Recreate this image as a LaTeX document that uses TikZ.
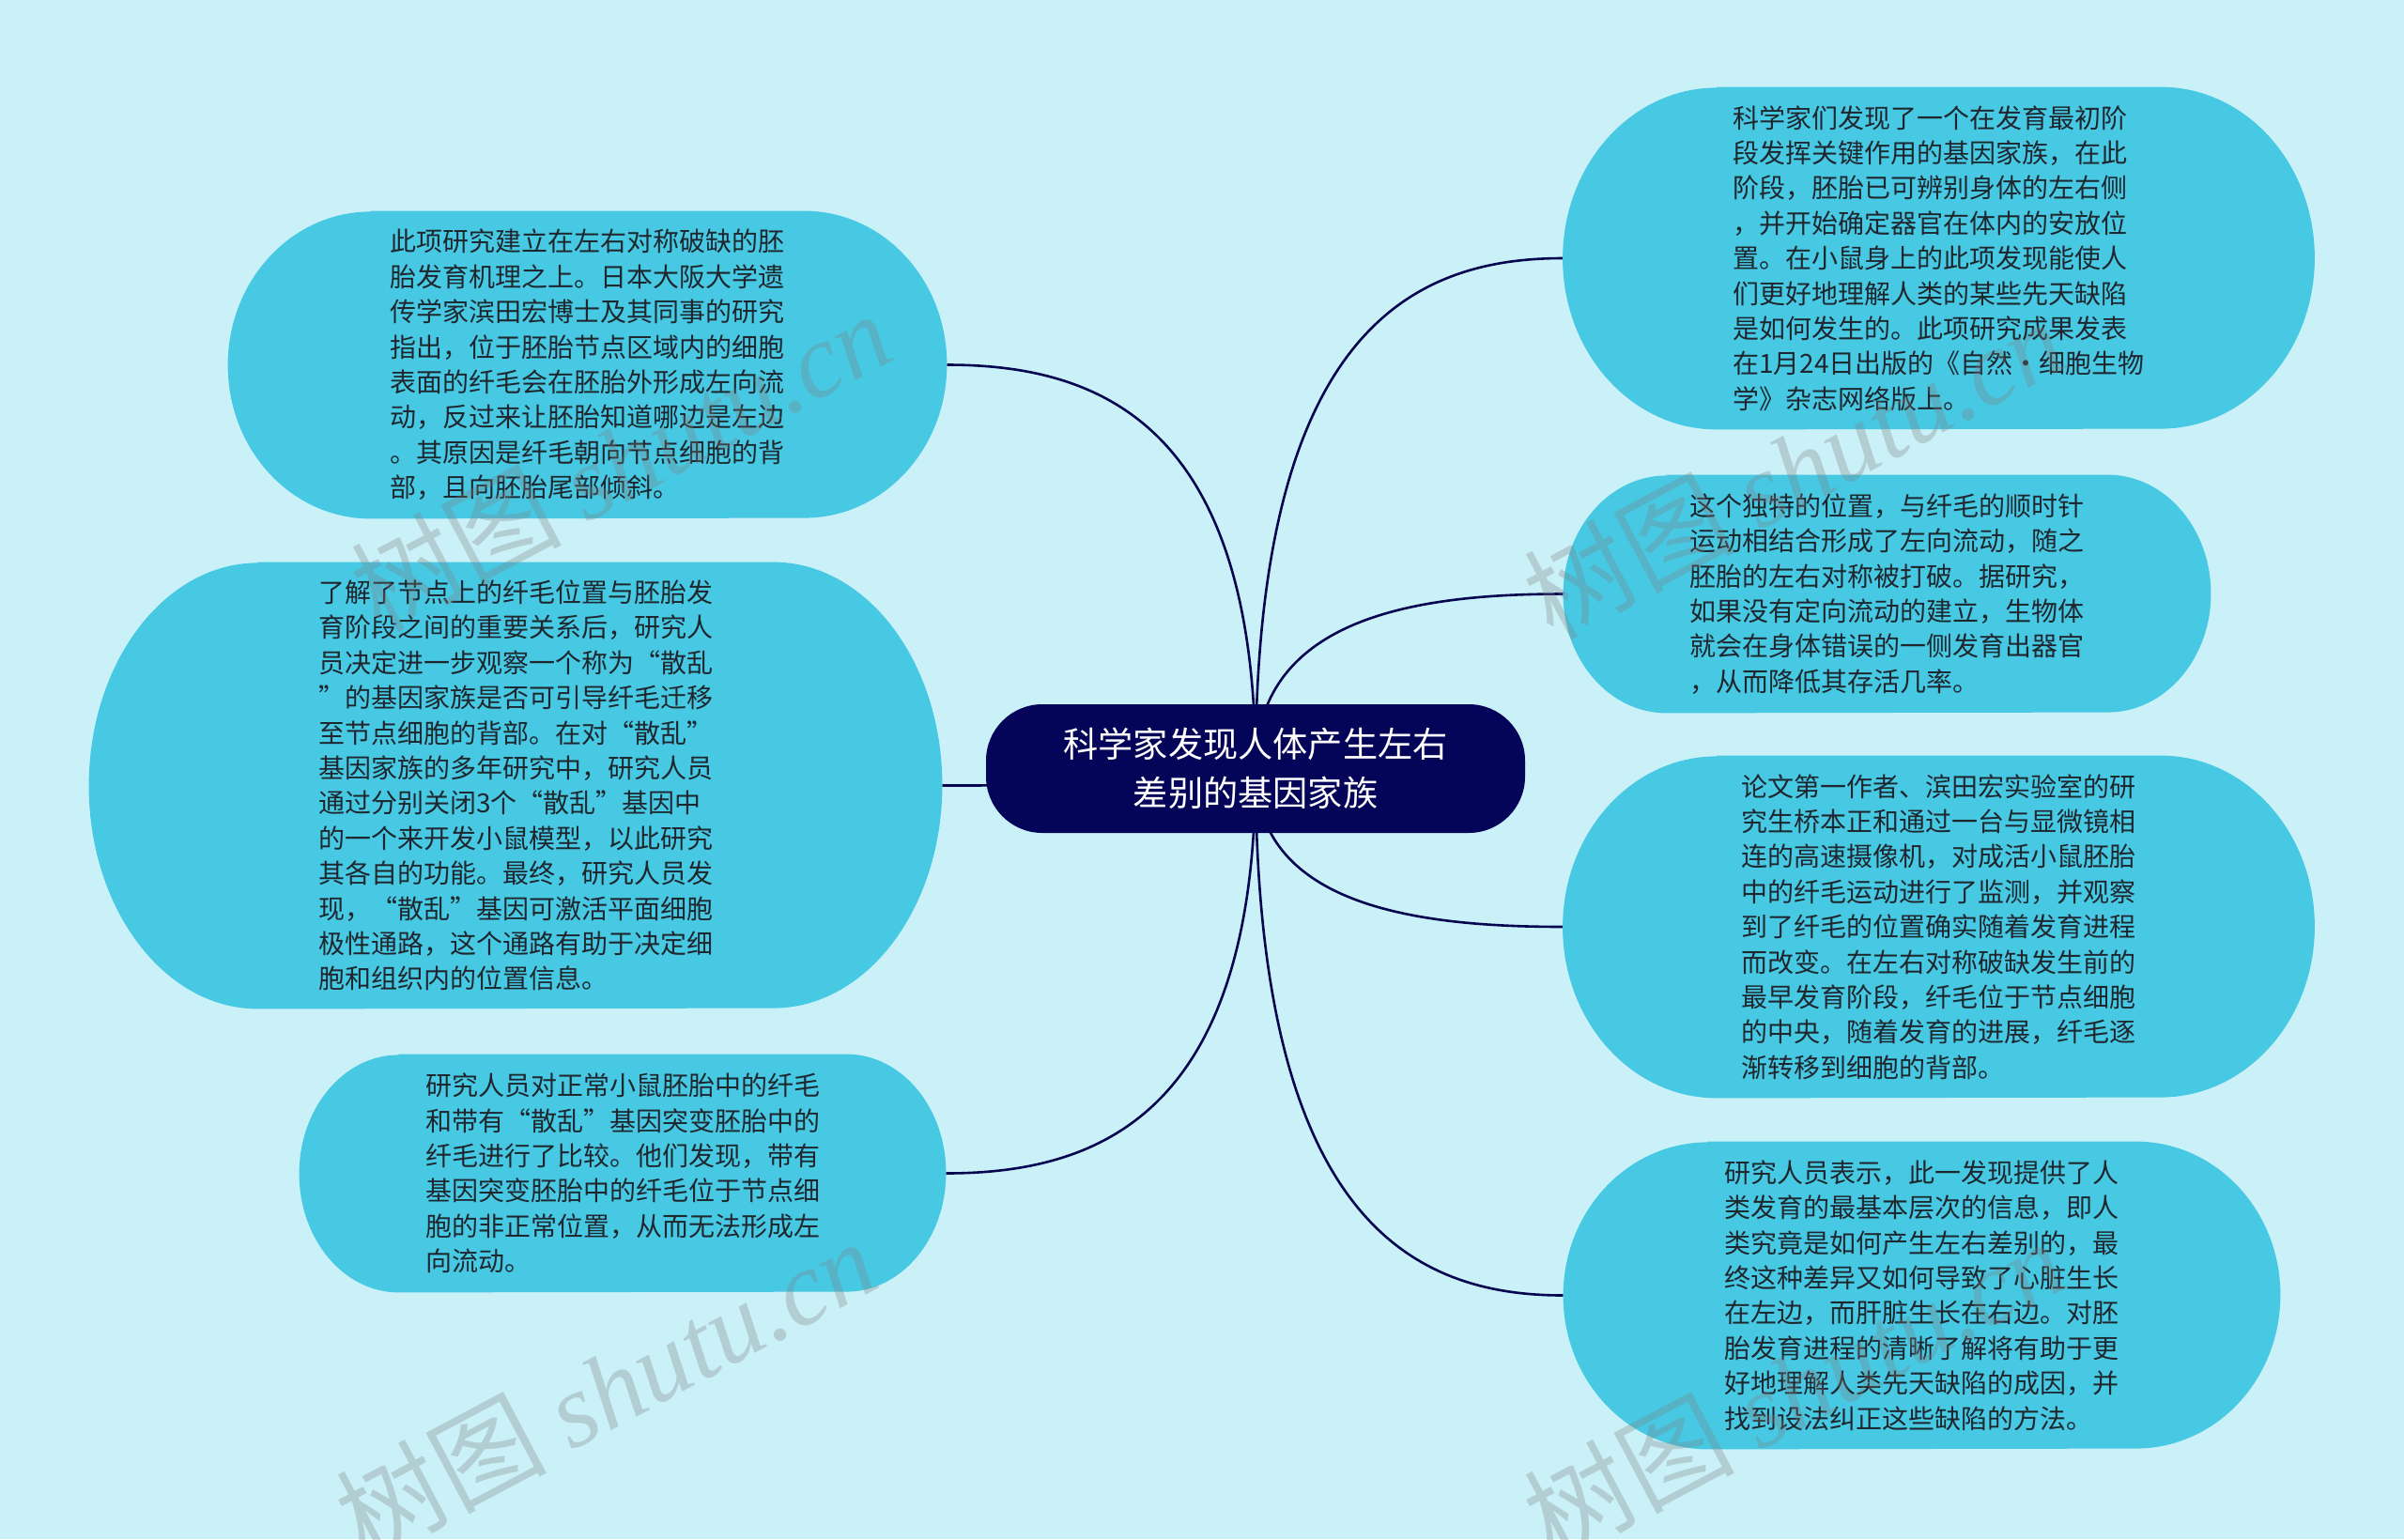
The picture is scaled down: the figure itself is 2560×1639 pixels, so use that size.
\documentclass[tikz,border=0pt]{standalone}
\usepackage{fontspec}
\setmainfont{Noto Sans CJK SC}
\newfontfamily\wmlatin{Liberation Serif}
\usetikzlibrary{calc}
\definecolor{bgcol}{RGB}{202,240,248}
\definecolor{bubcol}{RGB}{72,201,227}
\definecolor{rootcol}{RGB}{4,4,88}
\definecolor{linecol}{RGB}{6,6,80}
\definecolor{txtcol}{RGB}{30,38,46}
\pgfdeclarelayer{bglayer}
\pgfdeclarelayer{linelayer}
\pgfdeclarelayer{bublayer}
\pgfdeclarelayer{wmlayer}
\pgfsetlayers{bglayer,linelayer,bublayer,main,wmlayer}
\tikzset{
  leaf/.style={rectangle, inner sep=0pt, align=left, text=txtcol,
    font=\fontsize{14pt}{18.7pt}\selectfont},
  rootnode/.style={rectangle, rounded corners=30pt, fill=rootcol, text=white,
    align=center, minimum width=287pt, minimum height=68.5pt, inner sep=0pt,
    font=\fontsize{18.6pt}{26pt}\selectfont},
  conn/.style={draw=linecol, line width=1.3pt},
  wm/.style={text=gray, opacity=0.3, rotate=28,
    font=\fontsize{56pt}{60pt}\selectfont}
}
\newcommand\bubfill[3]{%
  \fill[bubcol] ([xshift=#2]#1.north west) -- ([xshift=-#2]#1.north east)
    arc[start angle=90, end angle=-90, x radius=#2, y radius=#3]
    -- ([xshift=#2]#1.south west)
    arc[start angle=270, end angle=90, x radius=#2, y radius=#3] -- cycle;}
\newcommand\linkto[2]{%
  \draw[conn] (#1.center) .. controls ($(#1.center)!0.85!(#1.center|-#2)$)
    and ($(#2)!0.5!(#2-|#1.center)$) .. (#2);}
\begin{document}
\begin{tikzpicture}[x=0.5pt, y=-0.5pt]
\useasboundingbox (0,0) rectangle (2560,1639);
\begin{pgfonlayer}{bglayer}
  \fill[bgcol] (0,0) rectangle (2560,1639);
\end{pgfonlayer}

\node[rootnode] (root) at (1337,818.5) {科学家发现人体产生左右\\差别的基因家族};

\node[leaf, minimum width=382.5pt, minimum height=163.5pt] (l1) at (625.5,388.5) {此项研究建立在左右对称破缺的胚\\胎发育机理之上。日本大阪大学遗\\传学家滨田宏博士及其同事的研究\\指出，位于胚胎节点区域内的细胞\\表面的纤毛会在胚胎外形成左向流\\动，反过来让胚胎知道哪边是左边\\。其原因是纤毛朝向节点细胞的背\\部，且向胚胎尾部倾斜。};

\node[leaf, minimum width=454pt, minimum height=237.5pt] (l2) at (549,836.5) {了解了节点上的纤毛位置与胚胎发\\育阶段之间的重要关系后，研究人\\员决定进一步观察一个称为“散乱\\”的基因家族是否可引导纤毛迁移\\至节点细胞的背部。在对“散乱”\\基因家族的多年研究中，研究人员\\通过分别关闭3个“散乱”基因中\\的一个来开发小鼠模型，以此研究\\其各自的功能。最终，研究人员发\\现，“散乱”基因可激活平面细胞\\极性通路，这个通路有助于决定细\\胞和组织内的位置信息。};

\node[leaf, minimum width=344pt, minimum height=126.5pt] (l3) at (663,1249.5) {研究人员对正常小鼠胚胎中的纤毛\\和带有“散乱”基因突变胚胎中的\\纤毛进行了比较。他们发现，带有\\基因突变胚胎中的纤毛位于节点细\\胞的非正常位置，从而无法形成左\\向流动。};

\node[leaf, minimum width=400pt, minimum height=182pt] (r1) at (2064.5,275) {科学家们发现了一个在发育最初阶\\段发挥关键作用的基因家族，在此\\阶段，胚胎已可辨别身体的左右侧\\，并开始确定器官在体内的安放位\\置。在小鼠身上的此项发现能使人\\们更好地理解人类的某些先天缺陷\\是如何发生的。此项研究成果发表\\在1月24日出版的《自然•细胞生物\\学》杂志网络版上。};

\node[leaf, minimum width=344.5pt, minimum height=126.5pt] (r2) at (2009.5,632.5) {这个独特的位置，与纤毛的顺时针\\运动相结合形成了左向流动，随之\\胚胎的左右对称被打破。据研究，\\如果没有定向流动的建立，生物体\\就会在身体错误的一侧发育出器官\\，从而降低其存活几率。};

\node[leaf, minimum width=400pt, minimum height=182pt] (r3) at (2064.5,987) {论文第一作者、滨田宏实验室的研\\究生桥本正和通过一台与显微镜相\\连的高速摄像机，对成活小鼠胚胎\\中的纤毛运动进行了监测，并观察\\到了纤毛的位置确实随着发育进程\\而改变。在左右对称破缺发生前的\\最早发育阶段，纤毛位于节点细胞\\的中央，随着发育的进展，纤毛逐\\渐转移到细胞的背部。};

\node[leaf, minimum width=381.5pt, minimum height=163.5pt] (r4) at (2046.5,1379.5) {研究人员表示，此一发现提供了人\\类发育的最基本层次的信息，即人\\类究竟是如何产生左右差别的，最\\终这种差异又如何导致了心脏生长\\在左边，而肝脏生长在右边。对胚\\胎发育进程的清晰了解将有助于更\\好地理解人类先天缺陷的成因，并\\找到设法纠正这些缺陷的方法。};

\begin{pgfonlayer}{bublayer}
  \bubfill{l1}{76pt}{81.75pt}
  \bubfill{l2}{90pt}{118.75pt}
  \bubfill{l3}{53pt}{63.25pt}
  \bubfill{r1}{82pt}{91pt}
  \bubfill{r2}{55pt}{63.25pt}
  \bubfill{r3}{82pt}{91pt}
  \bubfill{r4}{77pt}{81.75pt}
\end{pgfonlayer}

\begin{pgfonlayer}{linelayer}
  \linkto{root}{l1.east}
  \linkto{root}{l2.east}
  \linkto{root}{l3.east}
  \linkto{root}{r1.west}
  \linkto{root}{r2.west}
  \linkto{root}{r3.west}
  \linkto{root}{r4.west}
\end{pgfonlayer}

\begin{pgfonlayer}{wmlayer}
  \node[wm] (wm1) at (661,490) {树图 {\wmlatin\itshape shutu.cn}};
  \node[wm] (wm2) at (1910,498) {树图 {\wmlatin\itshape shutu.cn}};
  \node[wm] (wm3) at (645,1478) {树图 {\wmlatin\itshape shutu.cn}};
  \node[wm] (wm4) at (1910,1478) {树图 {\wmlatin\itshape shutu.cn}};
\end{pgfonlayer}
\end{tikzpicture}
\end{document}
